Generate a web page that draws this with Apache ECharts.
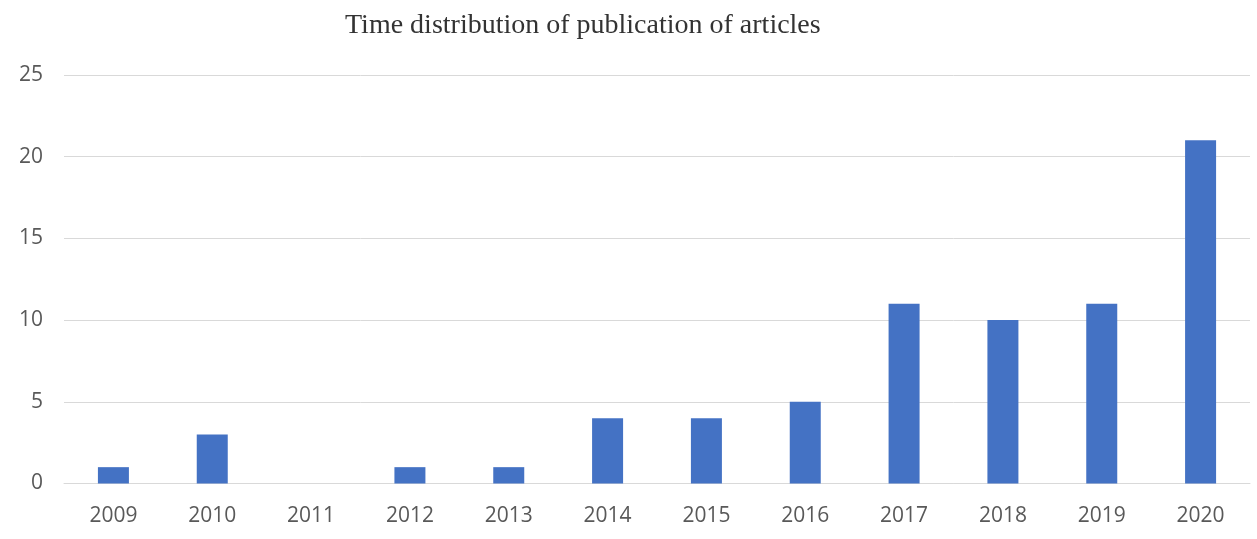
<!DOCTYPE html>
<html>
<head>
<meta charset="utf-8">
<script src="https://cdn.jsdelivr.net/npm/echarts@6/dist/echarts.min.js"></script>
<style>html,body{margin:0;padding:0;background:#fff;}#c{width:1257px;height:539px;}</style>
</head>
<body>
<div id="c"></div>
<script>
const categories = ['2009','2010','2011','2012','2013','2014','2015','2016','2017','2018','2019','2020'];
const articles = [1, 3, 0, 1, 1, 4, 4, 5, 11, 10, 11, 21];
const yMin = 0, yMax = 25, yStep = 5;

const chart = echarts.init(document.getElementById('c'), null, {renderer: 'canvas'});
chart.setOption({
  backgroundColor: '#ffffff',
  animation: false,
  title: {
    text: 'Time distribution of publication of articles',
    left: 340, top: 7,
    textStyle: {fontFamily: 'Liberation Serif', fontWeight: 'normal', fontSize: 28, color: '#333333'}
  },
  grid: {left: 64, right: 7, top: 75, bottom: 55.5, containLabel: false},
  xAxis: {
    type: 'category', data: categories,
    axisLine: {show: true, lineStyle: {color: '#d9d9d9', width: 1}},
    axisTick: {show: false},
    axisLabel: {color: '#595959', fontFamily: 'Open Sans', fontSize: 21, margin: 22}
  },
  yAxis: {
    type: 'value', min: yMin, max: yMax, interval: yStep,
    axisLine: {show: false}, axisTick: {show: false},
    splitLine: {lineStyle: {color: '#d9d9d9', width: 1}},
    axisLabel: {color: '#595959', fontFamily: 'Open Sans', fontSize: 21, margin: 21}
  },
  series: [{
    type: 'bar', data: articles, barWidth: 31,
    itemStyle: {color: '#4472C4'}
  }]
});
</script>
</body>
</html>
